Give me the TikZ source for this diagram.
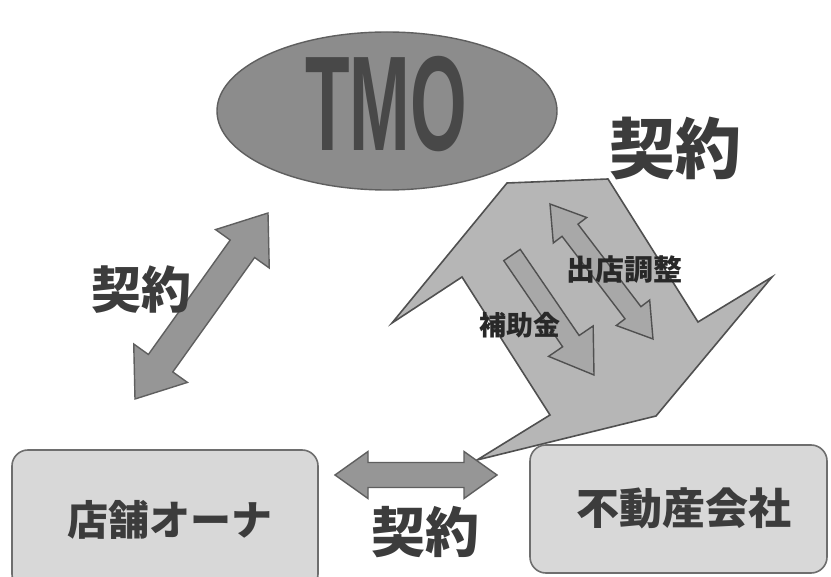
\documentclass[tikz,border=0pt]{standalone}
\usepackage{fontspec}
\setmainfont{Liberation Sans}
\newfontfamily\jp{Noto Sans CJK JP}
\usetikzlibrary{shapes.geometric,calc}
\definecolor{txt}{RGB}{60,60,60}
\definecolor{ellfill}{RGB}{140,140,140}
\definecolor{ellline}{RGB}{95,95,95}
\definecolor{shapefill}{RGB}{182,182,182}
\definecolor{shapeline}{RGB}{80,80,80}
\definecolor{innerfill}{RGB}{168,168,168}
\definecolor{arrfill}{RGB}{150,150,150}
\definecolor{arrline}{RGB}{95,95,95}
\definecolor{boxfill}{RGB}{216,216,216}
\definecolor{boxline}{RGB}{110,110,110}
\newcommand\blkdouble[6]{%
  \coordinate (ha) at ($(#2)!#6!(#3)$);
  \coordinate (hb) at ($(#3)!#6!(#2)$);
  \draw[#1] (#2) -- ($(ha)!#5!90:(#3)$) -- ($(ha)!#4!90:(#3)$)
    -- ($(hb)!#4!-90:(#2)$) -- ($(hb)!#5!-90:(#2)$) -- (#3)
    -- ($(hb)!#5!90:(#2)$) -- ($(hb)!#4!90:(#2)$)
    -- ($(ha)!#4!-90:(#3)$) -- ($(ha)!#5!-90:(#3)$) -- cycle;
}
\newcommand\blksingle[6]{%
  \coordinate (hs) at ($(#3)!#6!(#2)$);
  \draw[#1] ($(#2)!#4!90:(#3)$) -- ($(hs)!#4!90:(#3)$) -- ($(hs)!#5!90:(#3)$)
    -- (#3) -- ($(hs)!#5!-90:(#3)$) -- ($(hs)!#4!-90:(#3)$)
    -- ($(#2)!#4!-90:(#3)$) -- cycle;
}
\begin{document}
\begin{tikzpicture}[x=1pt,y=-1pt,
  box/.style={draw=boxline, fill=boxfill, line width=1.6pt, rounded corners=16pt, inner sep=0pt},
  lbl/.style={text=txt, inner sep=0pt},
  bigarrow/.style={draw=arrline, fill=arrfill, line width=1.4pt, line join=miter},
  innerarrow/.style={draw=shapeline, fill=innerfill, line width=1.4pt, line join=miter},
]
\clip (0,0) rectangle (831,577);
\fill[white] (0,0) rectangle (831,577);

% TMO ellipse
\node[ellipse, draw=ellline, fill=ellfill, line width=1.4pt, minimum width=340pt, minimum height=158pt, inner sep=0pt] (tmo) at (387,111) {};
\node[lbl, text={rgb,255:red,72;green,72;blue,72}] (tmotext) at (386,104) {\scalebox{0.54}[1]{\fontsize{135}{135}\selectfont\bfseries TMO}};

% boxes
\node[box, minimum width=306pt, minimum height=140pt] (owner) at (165,520) {};
\node[lbl] (ownertext) at (170,520) {\jp\bfseries\fontsize{41}{41}\selectfont 店舗オーナ};
\node[box, minimum width=297pt, minimum height=128pt] (estate) at (678.5,509) {};
\node[lbl] (estatetext) at (684,508) {\jp\bfseries\fontsize{43}{43}\selectfont 不動産会社};

% big zigzag arrow shape
\draw[draw=shapeline, fill=shapefill, line width=1.6pt, line join=miter]
  (392,323) -- (507,183) -- (608,179) -- (698,322) -- (772,277)
  -- (656,416) -- (477,460) -- (550,415) -- (462,277) -- cycle;

% inner arrows
\coordinate (ka) at (550,204);
\coordinate (kb) at (653,339);
\blkdouble{innerarrow}{ka}{kb}{10pt}{21pt}{33pt}
\coordinate (sa) at (512,255);
\coordinate (sb) at (594,375);
\blksingle{innerarrow}{sa}{sb}{10pt}{27pt}{41pt}

% left contract arrow
\coordinate (la) at (135,399);
\coordinate (lb) at (268,213);
\blkdouble{bigarrow}{la}{lb}{15pt}{33pt}{44pt}

% bottom contract arrow
\coordinate (ba) at (335,475);
\coordinate (bb) at (497,475);
\blkdouble{bigarrow}{ba}{bb}{12.5pt}{23.5pt}{33pt}

% labels
\node[lbl] (k1) at (675,148) {\jp\bfseries\fontsize{66}{66}\selectfont 契約};
\node[lbl] (k2) at (141,290) {\jp\bfseries\fontsize{50}{50}\selectfont 契約};
\node[lbl] (k3) at (425,532) {\jp\bfseries\fontsize{54}{54}\selectfont 契約};
\node[lbl, text={rgb,255:red,40;green,40;blue,40}] (k4) at (624,270) {\jp\bfseries\fontsize{29}{29}\selectfont 出店調整};
\node[lbl, text={rgb,255:red,40;green,40;blue,40}] (k5) at (520,325) {\jp\bfseries\fontsize{27}{27}\selectfont 補助金};
\end{tikzpicture}
\end{document}
